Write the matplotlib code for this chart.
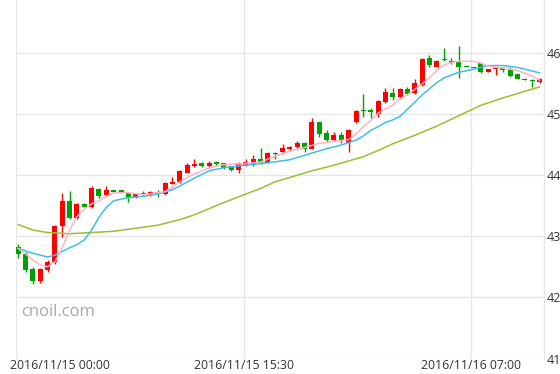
# -*- coding: utf-8 -*-

import numpy as np
import matplotlib.pyplot as plt
from matplotlib.transforms import ScaledTranslation
plt.rc('font', family=['Open Sans', 'DejaVu Sans'])

# 30 min candles, starting 2016/11/15 00:00
opens = [42.83, 42.71, 42.46, 42.27, 42.45, 42.57, 43.16, 43.58, 43.30, 43.52,
         43.47, 43.77, 43.67, 43.73, 43.73, 43.71, 43.64, 43.71, 43.67, 43.73,
         43.69, 43.86, 43.88, 44.04, 44.15, 44.19, 44.14, 44.22, 44.19, 44.14,
         44.09, 44.15, 44.16, 44.27, 44.20, 44.36, 44.37, 44.43, 44.46, 44.53,
         44.43, 44.86, 44.69, 44.57, 44.65, 44.53, 44.86, 45.05, 45.06, 45.00,
         45.19, 45.34, 45.27, 45.40, 45.34, 45.47, 45.91, 45.77, 45.88, 45.86,
         45.85, 45.77, 45.75, 45.83, 45.68, 45.73, 45.75, 45.73, 45.65, 45.57,
         45.55, 45.52]
highs = [42.87, 42.74, 42.50, 42.48, 42.61, 43.18, 43.71, 43.74, 43.55, 43.54,
         43.82, 43.78, 43.82, 43.73, 43.73, 43.71, 43.71, 43.74, 43.74, 43.75,
         43.88, 43.96, 44.08, 44.20, 44.26, 44.21, 44.23, 44.23, 44.20, 44.15,
         44.21, 44.26, 44.33, 44.44, 44.37, 44.38, 44.50, 44.47, 44.56, 44.54,
         44.93, 44.86, 44.74, 44.71, 44.70, 44.75, 45.06, 45.33, 45.10, 45.23,
         45.43, 45.42, 45.42, 45.44, 45.57, 45.92, 45.97, 45.88, 46.07, 45.91,
         46.11, 45.77, 45.75, 45.84, 45.73, 45.76, 45.76, 45.76, 45.65, 45.58,
         45.57, 45.58]
lows = [42.64, 42.41, 42.22, 42.23, 42.41, 42.55, 42.99, 43.28, 43.28, 43.47,
        43.46, 43.62, 43.66, 43.73, 43.73, 43.56, 43.63, 43.66, 43.66, 43.64,
        43.68, 43.85, 43.87, 44.03, 44.13, 44.13, 44.11, 44.15, 44.10, 44.07,
        44.04, 44.14, 44.15, 44.18, 44.19, 44.26, 44.35, 44.41, 44.44, 44.38,
        44.42, 44.63, 44.54, 44.55, 44.52, 44.38, 44.85, 44.95, 44.93, 44.95,
        45.17, 45.23, 45.25, 45.31, 45.32, 45.46, 45.77, 45.77, 45.86, 45.82,
        45.58, 45.77, 45.75, 45.67, 45.68, 45.64, 45.69, 45.61, 45.57, 45.55,
        45.44, 45.51]
closes = [42.71, 42.44, 42.27, 42.46, 42.58, 43.16, 43.58, 43.30, 43.53, 43.48,
          43.79, 43.66, 43.76, 43.73, 43.73, 43.62, 43.70, 43.69, 43.73, 43.69,
          43.87, 43.89, 44.07, 44.16, 44.18, 44.15, 44.20, 44.18, 44.11, 44.08,
          44.19, 44.22, 44.27, 44.19, 44.36, 44.34, 44.44, 44.46, 44.53, 44.43,
          44.86, 44.67, 44.57, 44.65, 44.57, 44.74, 45.05, 45.05, 45.03, 45.21,
          45.35, 45.28, 45.40, 45.32, 45.50, 45.90, 45.80, 45.87, 45.88, 45.84,
          45.77, 45.77, 45.75, 45.68, 45.73, 45.75, 45.72, 45.62, 45.57, 45.56,
          45.53, 45.57]

# moving averages read at candle positions
ma_fast_idx = [0, 1, 2, 3, 4, 5, 6, 7, 8, 9, 10, 11, 12, 13, 15, 17, 19, 20, 21, 22,
               24, 26, 28, 31, 33, 35, 37, 39, 41, 43, 45, 46, 47, 48, 49, 50, 51, 52,
               53, 54, 55, 56, 57, 58, 59, 60, 62, 63, 64, 66, 68, 70, 71]
ma_fast = [42.80, 42.71, 42.61, 42.53, 42.50, 42.58, 42.81, 43.10, 43.32, 43.44,
           43.53, 43.58, 43.65, 43.71, 43.71, 43.68, 43.71, 43.73, 43.80, 43.89,
           44.02, 44.12, 44.17, 44.19, 44.21, 44.31, 44.39, 44.45, 44.52, 44.55,
           44.58, 44.67, 44.79, 44.89, 45.01, 45.08, 45.14, 45.25, 45.31, 45.40,
           45.49, 45.59, 45.71, 45.80, 45.84, 45.86, 45.86, 45.83, 45.78, 45.75,
           45.71, 45.62, 45.55]
ma_mid_idx = [0, 2, 4, 5, 7, 8, 9, 10, 11, 12, 13, 15, 17, 19, 21, 22, 24, 26, 28, 31,
              34, 37, 40, 42, 44, 46, 47, 48, 49, 50, 51, 52, 54, 55, 56, 57, 58, 60,
              62, 64, 66, 68, 70, 71]
ma_mid = [42.80, 42.72, 42.66, 42.69, 42.81, 42.86, 42.94, 43.10, 43.31, 43.47,
          43.58, 43.63, 43.65, 43.69, 43.76, 43.82, 43.95, 44.07, 44.12, 44.16,
          44.20, 44.25, 44.36, 44.43, 44.49, 44.57, 44.64, 44.73, 44.79, 44.86,
          44.90, 44.96, 45.19, 45.31, 45.41, 45.51, 45.59, 45.68, 45.73, 45.79,
          45.79, 45.76, 45.70, 45.67]
ma_slow_idx = [0, 2, 4, 7, 10, 13, 16, 19, 22, 24, 26, 28, 31, 33, 35, 37, 40, 43, 45,
               47, 49, 51, 54, 57, 60, 63, 66, 69, 71]
ma_slow = [43.19, 43.10, 43.06, 43.04, 43.06, 43.08, 43.13, 43.18, 43.27, 43.35,
           43.45, 43.55, 43.69, 43.78, 43.89, 43.96, 44.07, 44.16, 44.23, 44.30,
           44.40, 44.51, 44.65, 44.80, 44.97, 45.14, 45.26, 45.37, 45.44]

tick_pos = [0, 31, 62]
tick_labels = ['2016/11/15 00:00', '2016/11/15 15:30', '2016/11/16 07:00']
y_ticks = [41, 42, 43, 44, 45, 46]

up_color = '#ff0000'
down_color = '#00a000'
grid_color = '#e6e6e6'


if __name__ == '__main__':

    fig = plt.figure(figsize=(5.6, 3.74), dpi=100)
    ax = fig.add_axes([16/560, 15.5/374, 528/560, 358.5/374])

    shift = 0.3
    x = np.arange(len(closes)) + shift
    o = np.array(opens)
    c = np.array(closes)
    colors = [up_color if cc > oo else down_color for oo, cc in zip(o, c)]
    bottoms = np.minimum(o, c)
    heights = np.maximum(np.abs(c - o), 0.018)

    ax.vlines(x, lows, highs, colors=colors, linewidth=1, zorder=3)
    ax.bar(x, heights, width=0.68, bottom=bottoms, color=colors, linewidth=0, zorder=4)

    ax.plot(np.array(ma_slow_idx) + shift, ma_slow, color='#99c031', linewidth=1.1, zorder=5)
    ax.plot(np.array(ma_mid_idx) + shift, ma_mid, color='#3dbfe6', linewidth=1.1, zorder=5)
    ax.plot(np.array(ma_fast_idx) + shift, ma_fast, color='#ffb3c6', linewidth=1.1, zorder=5)

    ax.set_xlim(0, 71.9)
    ax.set_ylim(41, 46.862)

    ax.set_xticks(tick_pos)
    ax.set_xticklabels(tick_labels, fontsize=8.8, color='#333333')
    ax.set_yticks(y_ticks)
    ax.set_yticklabels([str(v) for v in y_ticks], fontsize=9, color='#333333')
    ax.yaxis.tick_right()
    ax.tick_params(axis='both', length=0)
    ax.tick_params(axis='x', pad=0.5)
    ax.tick_params(axis='y', pad=2)
    first = ax.get_xticklabels()[0]
    first.set_horizontalalignment('left')
    first.set_transform(first.get_transform() + ScaledTranslation(-4/72, 0, fig.dpi_scale_trans))

    ax.grid(True, color=grid_color, linewidth=1)
    ax.set_axisbelow(True)
    for side in ['top', 'left', 'bottom']:
        ax.spines[side].set_visible(False)
    ax.spines['right'].set_color(grid_color)
    ax.spines['right'].set_linewidth(1)

    fig.text(21/560, 1 - 312/374, 'cnoil.com', fontsize=12, color='#a8a8a8', va='center')

    fig.savefig('out.png', dpi=100)
